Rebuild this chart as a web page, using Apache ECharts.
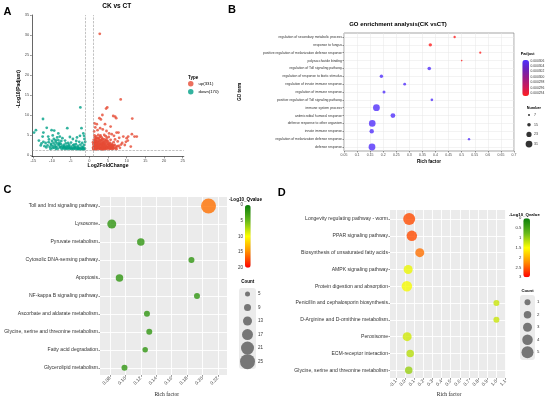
<!DOCTYPE html>
<html><head><meta charset="utf-8">
<script src="https://cdn.jsdelivr.net/npm/echarts@6/dist/echarts.min.js"></script>
<style>html,body{margin:0;padding:0;background:#fff}#c{width:550px;height:399px}</style>
</head><body><div id="c"></div>
<script>
// ---------- Panel A: volcano ----------
const upLabel = 'up(331)';
const downLabel = 'down(170)';
const fcCut = 1;
const padjCut = 1.3;
const volcanoXTicks = [-15,-10,-5,0,5,10,15,20,25];
const volcanoYTicks = [0,5,10,15,20,25,30,35];
const volcanoUp = [
[2.8,30.3],[8.4,13.9],[4.8,11.9],[4.5,11.6],[3.5,10.0],[6.4,9.75],[6.9,9.6],[2.7,9.2],[3.1,8.9],[7.2,9.2],[11.5,9.1],[1.4,7.9],[2.0,7.7],[4.2,7.7],[5.7,7.1],[2.9,6.7],[3.6,6.4],[5.3,5.4],[6.0,5.2],[7.3,5.6],[11.4,5.2],[12.1,4.6],[12.7,4.6],[10.4,4.6],[10.0,4.2],[7.8,5.6],[9.1,4.6],[9.8,3.3],[11.1,2.1],[1.6,6.9],[2.2,6.2],[1.3,5.9],[4.6,6.0],[8.0,4.3],[6.6,4.8],
[1.1,1.4],[1.2,1.9],[1.3,2.5],[1.4,3.1],[1.2,3.8],[1.5,4.4],[1.6,1.5],[1.7,2.2],[1.8,2.9],[1.9,3.5],[1.7,4.1],[2.0,1.6],[2.1,2.4],[2.2,3.2],[2.3,1.8],[2.4,2.7],[2.5,3.9],[2.6,1.5],[2.7,2.1],[2.8,3.0],[2.9,4.6],[3.0,1.7],[3.1,2.5],[3.2,3.4],[3.3,1.5],[3.4,2.0],[3.5,2.9],[3.6,4.0],[3.7,1.6],[3.8,2.3],[3.9,3.2],[4.0,1.9],[4.1,2.7],[4.2,1.5],[4.3,3.6],[4.4,2.2],[4.5,1.7],[4.6,2.9],[4.7,4.3],[4.8,1.5],[4.9,2.4],[5.0,3.3],[5.1,1.8],[5.3,2.6],[5.4,1.5],[5.6,2.1],[5.7,3.8],[5.8,1.7],[6.0,2.8],[6.2,1.5],[6.3,2.3],[6.5,3.2],[6.6,1.8],[6.8,2.5],[7.0,1.6],[7.2,2.0],[7.5,2.2],[7.6,3.4],[8.2,1.8],[8.5,2.6],[8.8,3.0],[9.5,2.5],[10.3,3.6],[6.9,3.9],[1.3,1.6],[1.5,2.0],[1.9,1.4],[2.2,1.7],[2.5,2.3],[2.8,1.6],[3.2,1.8],[3.6,1.4],[3.9,1.7],[4.3,1.6],[1.1,2.7],[1.4,4.9],[2.0,4.2],[2.4,5.0],[3.0,4.9],[3.3,4.4],[4.0,5.0],[1.6,3.3],[2.6,3.5],[3.4,2.6],[4.6,3.7],[5.2,4.5],[5.5,3.0],[5.9,2.4],[6.1,1.9],[1.8,2.5],[2.9,2.8],[3.7,3.0],[4.1,3.9],[4.4,4.7],[1.2,2.2],[2.1,2.9],[3.1,3.7],[3.8,1.5],[4.9,1.9],[5.6,1.6],[6.4,1.6],[7.3,1.5],[7.9,2.3],[1.0,1.8],[1.0,3.2],
[1.15,1.55],[1.35,2.35],[1.55,2.75],[1.75,1.75],[1.95,2.15],[2.15,2.05],[2.35,2.45],[2.55,1.85],[2.75,2.55],[2.95,2.05],[3.15,1.45],[3.35,2.25],[3.55,1.95],[3.75,2.65],[3.95,2.35],[4.15,1.95],[4.35,2.55],[4.55,2.05],[4.75,1.85],[4.95,2.75],[5.15,2.25],[5.35,1.95],[5.55,2.45],[5.75,2.15],[5.95,1.65],[6.15,2.55],[6.35,2.05],[6.55,2.35],[1.25,2.95],[1.65,3.75],[2.05,3.45],[2.45,3.15],[2.85,3.65],[3.25,2.95],[3.65,3.45],[4.05,3.05],[4.45,3.25],[4.85,3.55],[5.25,2.85],[1.45,3.55],[2.65,4.25],[3.45,3.95],[1.85,4.65],[2.25,4.15]
];
const volcanoDown = [
[-2.4,11.9],[-12.4,9.0],[-14.3,6.2],[-14.8,5.6],[-11.4,6.8],[-12.3,5.6],[-5.9,6.7],[-2.1,6.7],[-10.1,6.2],[-9.4,6.1],[-8.3,5.4],[-1.6,5.4],[-1.4,4.8],[-2.5,4.8],[-12.5,4.6],[-11.0,4.6],[-12.8,2.9],[-12.3,3.3],[-9.8,4.9],[-7.2,4.2],[-6.5,3.6],[-4.4,4.0],[-3.3,4.4],[-5.2,4.5],[-10.8,3.9],[-9.0,3.7],[-8.6,4.4],[-13.5,3.6],[-11.7,3.0],
[-11.2,2.4],[-10.9,3.2],[-10.6,2.0],[-10.3,2.8],[-10.0,3.5],[-9.8,2.2],[-9.6,3.0],[-9.4,1.8],[-9.2,2.6],[-9.0,3.3],[-8.8,2.0],[-8.6,2.9],[-8.4,1.6],[-8.2,2.4],[-8.0,3.1],[-7.8,1.9],[-7.6,2.7],[-7.4,1.5],[-7.2,2.2],[-7.0,1.7],[-6.8,2.5],[-6.6,1.5],[-6.4,2.0],[-6.2,1.6],[-6.0,2.3],[-5.8,1.5],[-5.6,1.9],[-5.4,2.6],[-5.2,1.6],[-5.0,2.1],[-4.8,1.5],[-4.6,1.8],[-4.4,2.4],[-4.2,1.5],[-4.0,2.0],[-3.8,1.6],[-3.6,2.7],[-3.4,1.5],[-3.2,1.9],[-3.0,2.3],[-2.8,1.5],[-2.6,1.8],[-2.4,2.6],[-2.2,1.6],[-2.0,2.1],[-1.8,1.5],[-1.6,1.9],[-1.4,2.5],[-1.2,1.6],[-1.1,3.3],[-1.3,4.0],[-1.5,1.4],[-1.9,3.0],[-2.7,3.3],[-3.5,3.5],[-4.9,3.1],[-5.7,3.0],[-6.3,2.9],[-7.5,3.5],[-8.9,1.5],[-9.9,1.7],[-10.4,1.5],[-11.5,1.9],[-12.0,2.2],[-13.0,2.4],[-8.3,3.7],[-9.5,4.0],[-7.9,4.6],[-2.9,1.7],[-3.9,1.8],[-4.5,1.6],[-5.3,1.7],[-6.1,1.8],[-6.9,1.9],[-7.7,2.0],[-1.7,1.7],[-2.3,1.4],[-3.1,1.5],[-3.7,2.1],[-4.1,2.6],[-5.5,2.2],[-6.7,2.1],[-8.1,2.7],[-9.1,2.1],[-10.2,2.5]
];

// ---------- Panel B: GO enrichment ----------
const goTerms = ['regulation of secondary metabolic process','response to fungus','positive regulation of melanization defense response','polysaccharide binding','regulation of Toll signaling pathway','regulation of response to biotic stimulus','regulation of innate immune response','regulation of immune response','positive regulation of Toll signaling pathway','immune system process','antimicrobial humoral response','defense response to other organism','innate immune response','regulation of melanization defense response','defense response'];
const goRich = [0.473,0.380,0.571,0.500,0.376,0.193,0.282,0.203,0.386,0.174,0.237,0.158,0.156,0.528,0.157];
const goNumber = [9,14,8,5,15,14,11,12,10,31,21,30,19,9,31];
const goPadj = [0.000294,0.000294,0.000294,0.000294,0.0003058,0.0003058,0.0003058,0.0003058,0.0003058,0.0003058,0.0003058,0.0003058,0.0003058,0.0003058,0.0003058];
const goNumberLegend = [7,15,23,31];
const goPadjTicks = [0.000294,0.000296,0.000298,0.000300,0.000302,0.000304,0.000306];

// ---------- Panel C: KEGG ----------
const keggCTerms = ['Toll and Imd signaling pathway','Lysosome','Pyruvate metabolism','Cytosolic DNA-sensing pathway','Apoptosis','NF-kappa B signaling pathway','Ascorbate and aldarate metabolism','Glycine, serine and threonine metabolism','Fatty acid degradation','Glycerolipid metabolism'];
const keggCRich = [0.208,0.0823,0.120,0.1858,0.0923,0.193,0.128,0.131,0.1257,0.0988];
const keggCCount = [25,13,10,7,10,7,7,7,6,7];
const keggCQ = [16,2,2,2,2,2,2,2,2,2];
const keggCRichTicks = [0.08,0.10,0.12,0.14,0.16,0.18,0.20,0.22];
const keggCCountLegend = [5,9,13,17,21,25];
const keggCQTicks = [0,5,10,15,20];

// ---------- Panel D: KEGG ----------
const keggDTerms = ['Longevity regulating pathway - worm','PPAR signaling pathway','Biosynthesis of unsaturated fatty acids','AMPK signaling pathway','Protein digestion and absorption','Penicillin and cephalosporin biosynthesis','D-Arginine and D-ornithine metabolism','Peroxisome','ECM-receptor interaction','Glycine, serine and threonine metabolism'];
const keggDRich = [0.045,0.074,0.161,0.034,0.020,1.0,1.0,0.023,0.056,0.040];
const keggDCount = [5,4,3,3,4,1,1,3,2,2];
const keggDQ = [2.6,2.6,2.4,1.4,1.45,1.23,1.23,1.27,1.15,1.0];
const keggDRichTicks = [-0.1,0.0,0.1,0.2,0.3,0.4,0.5,0.6,0.7,0.8,0.9,1.0,1.1];
const keggDCountLegend = [1,2,3,4,5];
const keggDQTicks = [0,0.5,1,1.5,2,2.5,3];

// ---------- build ----------
const F = 'Liberation Sans, Arial, sans-serif';
const SERIF = 'Liberation Serif, Times New Roman, serif';
const sizeB = n => 0.6 + 0.2 * n;
const sizeC = n => 2.5 + 0.5 * n;
const sizeD = n => 4.5 + 1.5 * n;
const idx = a => a.map((_, i) => i);
const qColors = ['#0a7d0a','#66b81a','#ffff00','#ff8c00','#ff0000'];

const chart = echarts.init(document.getElementById('c'));

const grids = [
  {left:31.8, top:15, width:152, height:141.6},                                   // 0 A
  {left:344, top:33, width:170, height:118, show:true, backgroundColor:'#fff', borderColor:'#7f7f7f', borderWidth:0.7}, // 1 B
  {left:100, top:197, width:127, height:178, show:true, backgroundColor:'#ebebeb', borderWidth:0}, // 2 C
  {left:390, top:210, width:116, height:168, show:true, backgroundColor:'#ebebeb', borderWidth:0}, // 3 D
  {left:522.3, top:60.7, width:6.7, height:32.6},   // 4 B colorbar labels
  {left:526, top:110.2, width:6, height:38.7},      // 5 B number legend
  {left:245, top:205, width:5.7, height:62.7},      // 6 C colorbar labels
  {left:239, top:287.2, width:17, height:81.2},     // 7 C count legend
  {left:523.3, top:218.3, width:6.7, height:59},    // 8 D colorbar labels
  {left:520, top:296, width:15, height:62.5}        // 9 D count legend
];

const hid = (g, extra) => Object.assign({gridIndex:g, type:'value', min:0, max:1, show:false}, extra || {});
const tickStyle = {color:'#333', width:0.5};
const noLine = {show:false, onZero:false};

const xAxes = [
  {gridIndex:0, type:'value', min:-15.4, max:25.3,
   axisLine:{show:true, onZero:false, lineStyle:{color:'#000', width:0.6}},
   axisTick:{show:true, length:1.8, customValues:volcanoXTicks, lineStyle:tickStyle},
   axisLabel:{customValues:volcanoXTicks, fontSize:4, color:'#4d4d4d', margin:2.5, fontFamily:F},
   splitLine:{show:false}},
  {gridIndex:1, type:'value', min:0.05, max:0.7, interval:0.05,
   axisLine:noLine, axisTick:{show:true, length:1.5, lineStyle:tickStyle},
   axisLabel:{fontSize:3.5, color:'#4d4d4d', margin:2, fontFamily:F},
   splitLine:{show:true, lineStyle:{color:'#e6e6e6', width:0.5}}},
  {gridIndex:2, type:'value', min:0.067, max:0.232,
   axisLine:noLine, axisTick:{show:true, length:1.8, customValues:keggCRichTicks, lineStyle:tickStyle},
   axisLabel:{customValues:keggCRichTicks, rotate:45, fontSize:4.8, color:'#4d4d4d', margin:2.5, fontFamily:F, formatter:v=>v.toFixed(2)},
   splitLine:{show:true, lineStyle:{color:'#fff', width:0.9}}},
  {gridIndex:3, type:'value', min:-0.165, max:1.105,
   axisLine:noLine, axisTick:{show:true, length:1.8, customValues:keggDRichTicks, lineStyle:tickStyle},
   axisLabel:{customValues:keggDRichTicks, rotate:45, fontSize:4.8, color:'#4d4d4d', margin:2.5, fontFamily:F, formatter:v=>v.toFixed(1)},
   splitLine:{show:true, lineStyle:{color:'#fff', width:0.9}}},
  hid(4), hid(5), hid(6), hid(7), hid(8), hid(9)
];

const catY = (g, terms, mn, mx, fs) => ({gridIndex:g, type:'value', inverse:true, min:mn, max:mx,
  axisLine:noLine, axisTick:{show:true, length:1.5, customValues:idx(terms), lineStyle:tickStyle},
  axisLabel:{customValues:idx(terms), fontSize:fs, color:'#333', margin:2, fontFamily:F, formatter:v=>terms[Math.round(v)] || ''},
  splitLine:{show:true, lineStyle:{color: g === 1 ? '#e6e6e6' : '#fff', width: g === 1 ? 0.5 : 0.9}}});

const legY = (g, vals, fs, pos) => ({gridIndex:g, type:'value', inverse:true, min:-0.5, max:vals.length-0.5, position:pos||'right',
  axisLine:noLine, axisTick:{show:false}, splitLine:{show:false},
  axisLabel:{customValues:idx(vals), fontSize:fs, color:'#333', margin:2, fontFamily:F, formatter:v=>String(vals[Math.round(v)])}});

const barY = (g, mn, mx, ticks, fs, pos, inv, fmt, margin) => ({gridIndex:g, type:'value', min:mn, max:mx, inverse:inv, position:pos,
  axisLine:noLine, axisTick:{show:false}, splitLine:{show:false},
  axisLabel:{customValues:ticks, fontSize:fs, color:'#333', margin:margin, fontFamily:F, formatter:fmt}});

const yAxes = [
  {gridIndex:0, type:'value', min:-0.4, max:35,
   axisLine:{show:true, onZero:false, lineStyle:{color:'#000', width:0.6}},
   axisTick:{show:true, length:1.8, customValues:volcanoYTicks, lineStyle:tickStyle},
   axisLabel:{customValues:volcanoYTicks, fontSize:4, color:'#4d4d4d', margin:2.5, fontFamily:F},
   splitLine:{show:false}},
  catY(1, goTerms, -0.51, goTerms.length-1+0.51, 3.4),
  catY(2, keggCTerms, -0.5, keggCTerms.length-1+0.4, 5.1),
  catY(3, keggDTerms, -0.54, keggDTerms.length-1+0.46, 5.1),
  barY(4, goPadjTicks[0], goPadjTicks[goPadjTicks.length-1], goPadjTicks, 3.3, 'right', false, v=>v.toFixed(6), 1.5),
  legY(5, goNumberLegend, 3.5),
  barY(6, keggCQTicks[0], keggCQTicks[keggCQTicks.length-1], keggCQTicks, 4.5, 'left', true, v=>String(v), 2),
  legY(7, keggCCountLegend, 4.5),
  barY(8, keggDQTicks[0], keggDQTicks[keggDQTicks.length-1], keggDQTicks, 4.2, 'left', true, v=>String(v), 2),
  legY(9, keggDCountLegend, 4.3)
];

const series = [
  {name:upLabel, type:'scatter', xAxisIndex:0, yAxisIndex:0, data:volcanoUp, symbolSize:2.8, itemStyle:{color:'#E64B35'},
   markLine:{silent:true, symbol:'none', label:{show:false}, lineStyle:{type:'dashed', color:'#9a9a9a', width:0.6},
     data:[{xAxis:-fcCut},{xAxis:fcCut},{yAxis:padjCut}]}},
  {name:downLabel, type:'scatter', xAxisIndex:0, yAxisIndex:0, data:volcanoDown, symbolSize:2.8, itemStyle:{color:'#00A087'}},
  {type:'scatter', xAxisIndex:1, yAxisIndex:1, data:goTerms.map((t,i)=>[goRich[i], i, goNumber[i], goPadj[i]]), symbolSize:v=>sizeB(v[2])},
  {type:'scatter', xAxisIndex:2, yAxisIndex:2, data:keggCTerms.map((t,i)=>[keggCRich[i], i, keggCCount[i], keggCQ[i]]), symbolSize:v=>sizeC(v[2])},
  {type:'scatter', xAxisIndex:3, yAxisIndex:3, data:keggDTerms.map((t,i)=>[keggDRich[i], i, keggDCount[i], keggDQ[i]]), symbolSize:v=>sizeD(v[2])},
  {type:'scatter', xAxisIndex:5, yAxisIndex:5, data:goNumberLegend.map((n,i)=>[0.5, i, n]), symbolSize:v=>sizeB(v[2]), itemStyle:{color:'#000'}},
  {type:'scatter', xAxisIndex:7, yAxisIndex:7, data:keggCCountLegend.map((n,i)=>[0.5, i, n]), symbolSize:v=>sizeC(v[2]), itemStyle:{color:'#595959'}},
  {type:'scatter', xAxisIndex:9, yAxisIndex:9, data:keggDCountLegend.map((n,i)=>[0.5, i, n]), symbolSize:v=>sizeD(v[2]), itemStyle:{color:'#595959'}},
  {type:'scatter', xAxisIndex:4, yAxisIndex:4, data:[]},
  {type:'scatter', xAxisIndex:6, yAxisIndex:6, data:[]},
  {type:'scatter', xAxisIndex:8, yAxisIndex:8, data:[]}
];

const T = (text, x, y, size, opt) => Object.assign({type:'text', x, y, style:Object.assign({text, fontSize:size, fontFamily:F, fill:'#000', textAlign:'center', textVerticalAlign:'middle'}, (opt&&opt.style)||{})}, opt ? {rotation:opt.rotation||0} : {});
const B = (text, x, y, size, extra) => T(text, x, y, size, {style:Object.assign({fontWeight:'bold'}, extra||{})});

const graphic = [
  {type:'rect', shape:{x:239, y:288, width:17, height:81, r:3}, style:{fill:'#ebebeb'}, z:-1},
  {type:'rect', shape:{x:520, y:295, width:15, height:65, r:3}, style:{fill:'#ebebeb'}, z:-1},
  B('A', 7.5, 12, 11), B('B', 232, 9.5, 11), B('C', 7.5, 190, 11), B('D', 281.7, 193, 11),
  B('CK vs CT', 116.7, 6.5, 6.5),
  B('Log2FoldChange', 108, 165.7, 5),
  T('-Log10(Padjust)', 19, 89, 5, {rotation:Math.PI/2, style:{fontWeight:'bold'}}),
  B('Type', 188, 77.3, 4.5, {textAlign:'left'}),
  B('GO enrichment analysis(CK vsCT)', 398, 24, 6),
  B('Rich factor', 429, 161.7, 4.6),
  T('GO term', 240, 91.7, 4.5, {rotation:Math.PI/2, style:{fontWeight:'bold'}}),
  B('Padjust', 520.7, 54, 3.8, {textAlign:'left'}),
  B('Number', 526.7, 107.5, 3.8, {textAlign:'left'}),
  T('Rich factor', 166.7, 394.3, 5.5, {style:{fontFamily:SERIF, fill:'#222'}}),
  T('Rich factor', 449, 394.3, 5.5, {style:{fontFamily:SERIF, fill:'#222'}}),
  B('-Log10_Qvalue', 229, 200, 4.6, {textAlign:'left'}),
  B('-Log10_Qvalue', 509, 215, 4.3, {textAlign:'left'}),
  B('Count', 247.8, 281.7, 4.5),
  B('Count', 527.5, 290.7, 4.2)
];

chart.setOption({
  animation:false,
  backgroundColor:'#fff',
  grid:grids, xAxis:xAxes, yAxis:yAxes, series,
  legend:{data:[upLabel, downLabel], orient:'vertical', left:188, top:81, padding:0, itemGap:2.5, itemWidth:5.5, itemHeight:5.5, icon:'circle',
    textStyle:{fontSize:4.3, fontFamily:F, color:'#000'}},
  visualMap:[
    {type:'continuous', seriesIndex:2, dimension:3, min:goPadjTicks[0], max:goPadjTicks[goPadjTicks.length-1], left:522.3, top:60, itemWidth:6.7, itemHeight:36,
     padding:0, calculable:false, inRange:{color:['#ff1f1f','#cc1a5a','#9a1c86','#6a22bb','#4f30ff']}},
    {type:'continuous', seriesIndex:3, dimension:3, min:keggCQTicks[0], max:keggCQTicks[keggCQTicks.length-1], inverse:true, left:245, top:205, itemWidth:5.7, itemHeight:62.7,
     padding:0, calculable:false, inRange:{color:qColors}},
    {type:'continuous', seriesIndex:4, dimension:3, min:keggDQTicks[0], max:keggDQTicks[keggDQTicks.length-1], inverse:true, left:523.3, top:218.3, itemWidth:6.7, itemHeight:59,
     padding:0, calculable:false, inRange:{color:qColors}}
  ],
  graphic
});
</script></body></html>
